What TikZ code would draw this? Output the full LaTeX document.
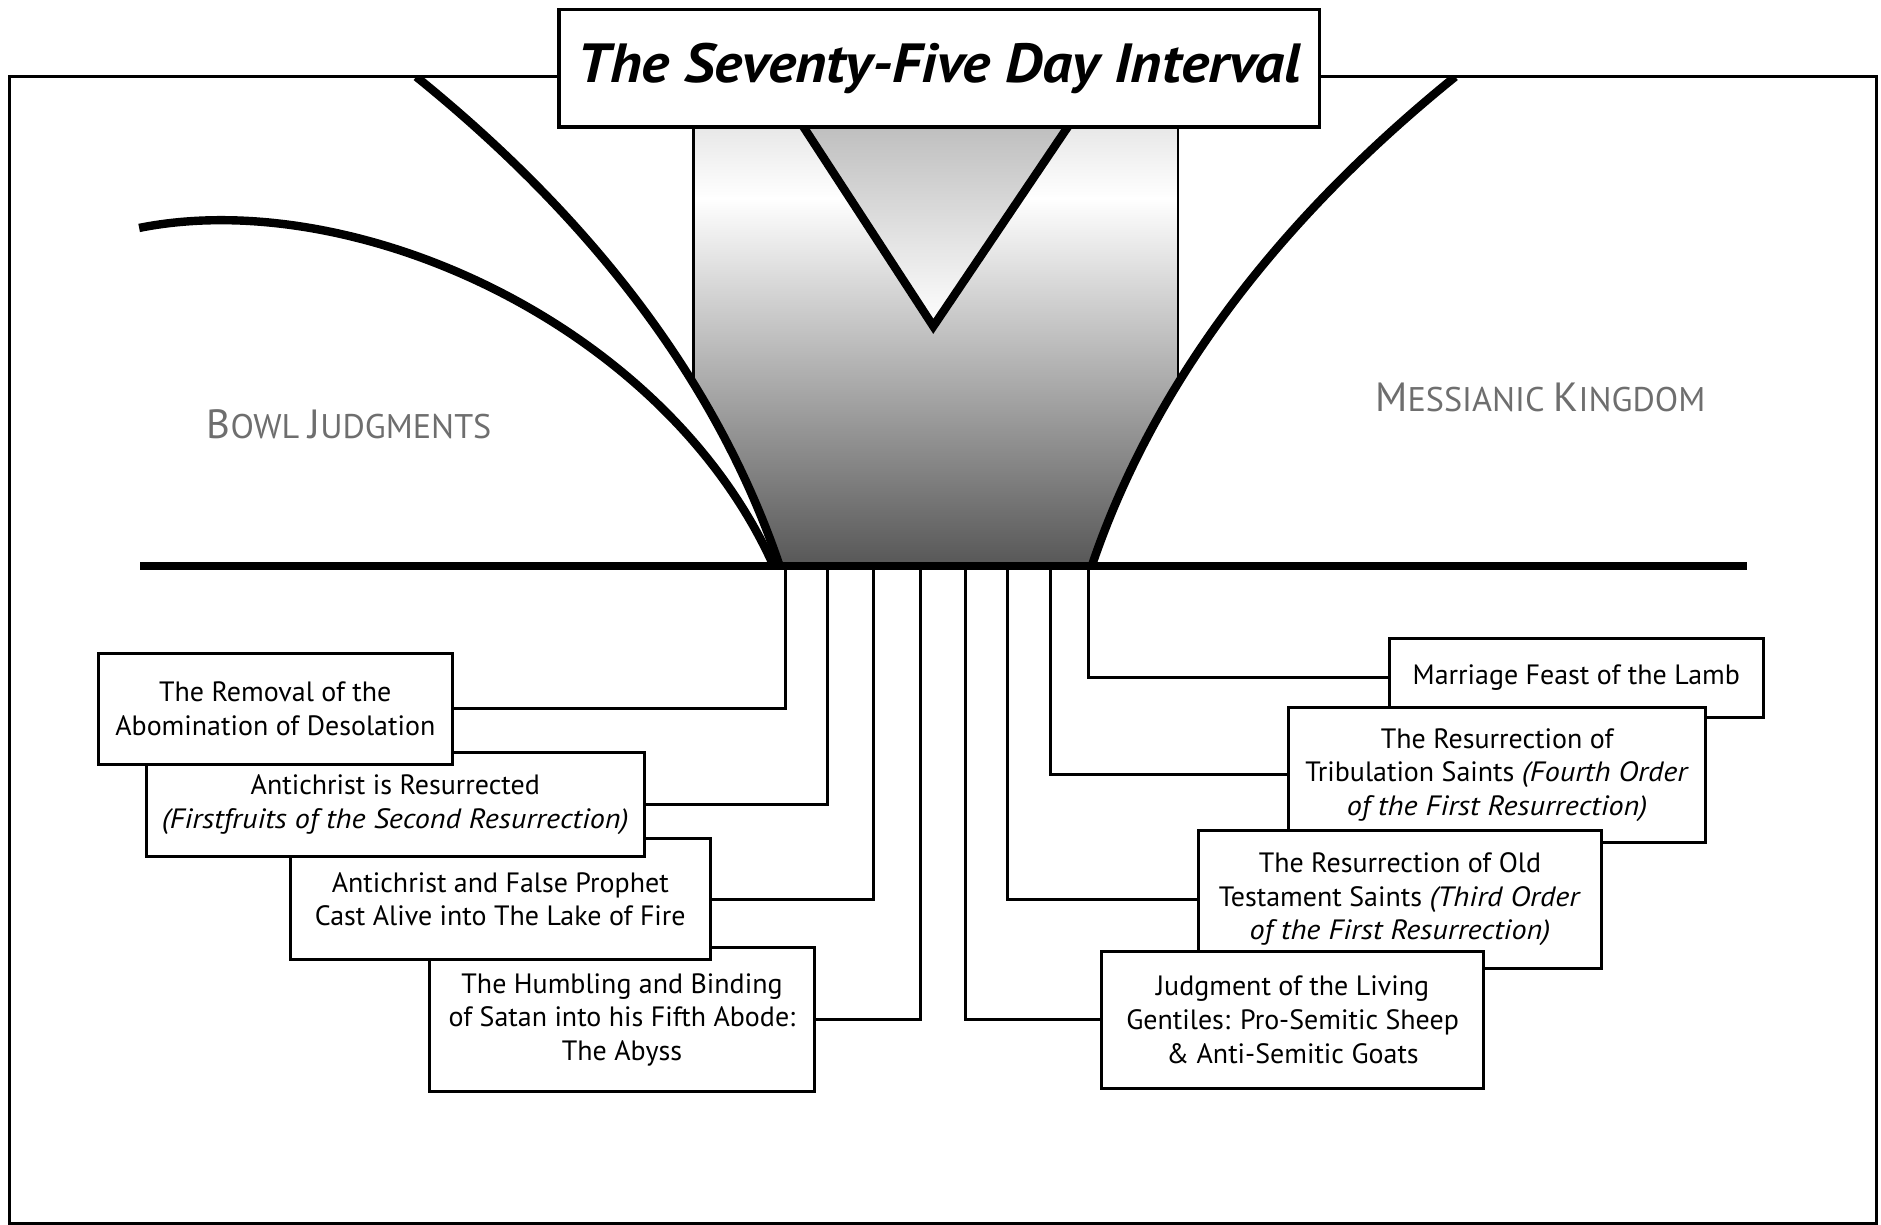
\documentclass[tikz,border=0pt]{standalone}
\usepackage{fontspec}
\setmainfont{PT Sans}[ItalicFeatures={FakeStretch=1.08},BoldItalicFeatures={FakeStretch=1.08}]
\definecolor{lblgray}{HTML}{6E6E6E}
\newcommand{\mybigsc}[1]{{\fontsize{34}{34}\selectfont #1}}
\begin{document}
\begin{tikzpicture}[x=1pt,y=-1pt,
  heavy/.style={line width=7pt},
  conn/.style={line width=2.5pt},
  evtbox/.style={draw, line width=2.5pt, fill=white, align=center, inner sep=0pt,
     font=\fontsize{23.3}{28}\selectfont},
  lbl/.style={text=lblgray, font=\fontsize{28.5}{28.5}\selectfont, inner sep=0pt}]
\useasboundingbox (0,0) rectangle (1568,1021);
% frame
\draw[line width=2.5pt] (8,64) rectangle (1564,1020);
% shaded interval region
\begin{scope}
\clip (347,64) .. controls (483,174) and (595,309) .. (650,472) -- (910,472)
      .. controls (965,309) and (1077,174) .. (1213,64) -- cycle;
\shade[top color=black!10, bottom color=white] (578,100) rectangle (982,166);
\shade[top color=white, bottom color=black!66] (578,165) rectangle (982,472);
\draw[line width=2pt] (578,100) -- (578,472) (982,100) -- (982,472);
\end{scope}
% V
\shade[top color=black!25, bottom color=white] (670,106) -- (778,272) -- (890,106) -- cycle;
\draw[heavy, miter limit=20] (666,100) -- (778,272) -- (894,100);
% curves
\begin{scope}
\clip (0,64) rectangle (1568,1021);
\draw[heavy] (347,64) .. controls (483,174) and (595,309) .. (650,472);
\draw[heavy] (1213,64) .. controls (1077,174) and (965,309) .. (910,472);
\draw[heavy] (116,190) .. controls (296,154) and (555,271) .. (645,472);
\end{scope}
% tick coordinates on the baseline
\coordinate (t1) at (655,472);
\coordinate (t2) at (690,472);
\coordinate (t3) at (728,472);
\coordinate (t4) at (767,472);
\coordinate (t5) at (805,472);
\coordinate (t6) at (840,472);
\coordinate (t7) at (876,472);
\coordinate (t8) at (907,472);
% boxes (positions)
\path
  (229.5,591) coordinate (p1)
  (329.5,670.5) coordinate (p2)
  (417,749.5) coordinate (p3)
  (518.5,850) coordinate (p4)
  (1077.5,850) coordinate (p5)
  (1167,749.5) coordinate (p6)
  (1248,646) coordinate (p7)
  (1314,565) coordinate (p8);
% right boxes: lower ones on top
\node[evtbox, minimum width=312pt, minimum height=66pt] (b8) at (p8) {Marriage Feast of the Lamb};
\node[evtbox, minimum width=348pt, minimum height=112pt] (b7) at (p7)
  {The Resurrection of\\Tribulation Saints \textit{(Fourth Order}\\\textit{of the First Resurrection)}};
\node[evtbox, minimum width=336pt, minimum height=115pt] (b6) at (p6)
  {The Resurrection of Old\\Testament Saints \textit{(Third Order}\\\textit{of the First Resurrection)}};
\node[evtbox, minimum width=319pt, minimum height=114pt] (b5) at (p5)
  {Judgment of the Living\\Gentiles: Pro-Semitic Sheep\\\& Anti-Semitic Goats};
% left boxes: upper ones on top
\node[evtbox, minimum width=321pt, minimum height=120pt] (b4) at (p4)
  {The Humbling and Binding\\of Satan into his Fifth Abode:\\The Abyss};
\node[evtbox, minimum width=350pt, minimum height=101pt] (b3) at (p3)
  {Antichrist and False Prophet\\Cast Alive into The Lake of Fire};
\node[evtbox, minimum width=415pt, minimum height=87pt] (b2) at (p2)
  {Antichrist is Resurrected\\\textit{(Firstfruits of the Second Resurrection)}};
\node[evtbox, minimum width=295pt, minimum height=92pt] (b1) at (p1)
  {The Removal of the\\Abomination of Desolation};
% connectors
\draw[conn] (t1) |- (b1.east);
\draw[conn] (t2) |- (b2.east);
\draw[conn] (t3) |- (b3.east);
\draw[conn] (t4) |- (b4.east);
\draw[conn] (t5) |- (b5.west);
\draw[conn] (t6) |- (b6.west);
\draw[conn] (t7) |- (b7.west);
\draw[conn] (t8) |- (b8.west);
% baseline
\draw[heavy] (117,472) -- (1456,472);
% labels
\node[lbl] (bowl) at (291,354) {\mybigsc{B}OWL \mybigsc{J}UDGMENTS};
\node[lbl] (mk) at (1284,331) {\mybigsc{M}ESSIANIC \mybigsc{K}INGDOM};
% title
\node[draw, line width=3pt, fill=white, minimum width=634pt, minimum height=98pt,
      font=\fontsize{46}{46}\selectfont\bfseries\itshape] (title) at (783,57)
  {The Seventy-Five Day Interval};
\end{tikzpicture}
\end{document}
